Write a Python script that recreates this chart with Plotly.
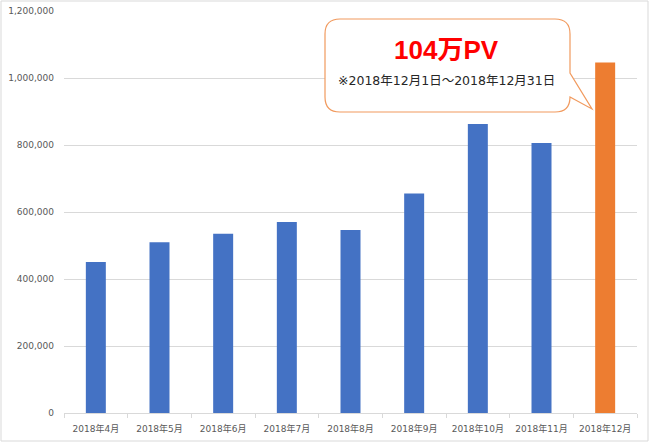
import plotly.graph_objects as go

categories = ["2018年4月", "2018年5月", "2018年6月", "2018年7月", "2018年8月",
              "2018年9月", "2018年10月", "2018年11月", "2018年12月"]
pageviews = [451000, 510000, 535000, 570000, 546000, 655000, 863000, 806000, 1046000]
bar_colors = ["#4472C4"] * 8 + ["#ED7D31"]
callout_title = "104万PV"
callout_note = "※2018年12月1日～2018年12月31日"

W, H = 650, 443
L, R, T, B = 64, 13, 11, 30
PW, PH = W - L - R, H - T - B


def px(x):
    return (x - L) / PW


def py(y):
    return (H - B - y) / PH


def path_from(points_cmds):
    out = []
    for cmd, pts in points_cmds:
        s = cmd
        s += " ".join(f"{px(a):.5f},{py(b):.5f}" for a, b in pts)
        out.append(s)
    return " ".join(out) + " Z"


fig = go.Figure()
fig.add_trace(go.Bar(
    x=categories, y=pageviews, marker=dict(color=bar_colors, line=dict(width=0)),
    hoverinfo="x+y",
))

x0, x1, y0, y1, r = 325, 570, 19, 112, 15
callout = path_from([
    ("M", [(x0 + r, y0)]),
    ("L", [(x1 - r, y0)]),
    ("Q", [(x1, y0), (x1, y0 + r)]),
    ("L", [(x1, 73)]),
    ("L", [(592, 109)]),
    ("L", [(x1, 97)]),
    ("Q", [(x1, y1), (x1 - r, y1)]),
    ("L", [(x0 + r, y1)]),
    ("Q", [(x0, y1), (x0, y1 - r)]),
    ("L", [(x0, y0 + r)]),
    ("Q", [(x0, y0), (x0 + r, y0)]),
])

shapes = [
    dict(type="rect", xref="paper", yref="paper",
         x0=px(1), x1=px(648), y0=py(441), y1=py(1),
         line=dict(color="#D9D9D9", width=1), fillcolor="rgba(0,0,0,0)", layer="below"),
    dict(type="path", xref="paper", yref="paper", path=callout,
         line=dict(color="#F19A5E", width=1.2), fillcolor="white", layer="above"),
]

annotations = [
    dict(text=f"<b>{callout_title}</b>", xref="paper", yref="paper",
         x=px(447), y=py(50), showarrow=False, xanchor="center", yanchor="middle",
         font=dict(family="Liberation Sans, Noto Sans CJK JP", size=26, color="#FF0000")),
    dict(text=callout_note, xref="paper", yref="paper",
         x=px(446), y=py(80), showarrow=False, xanchor="center", yanchor="middle",
         font=dict(family="DejaVu Sans, Noto Sans CJK JP", size=12.5, color="#262626")),
]

fig.update_layout(
    width=W, height=H,
    margin=dict(l=L, r=R, t=T, b=B, pad=0, autoexpand=False),
    paper_bgcolor="white", plot_bgcolor="white",
    bargap=0.686,
    showlegend=False,
    shapes=shapes,
    annotations=annotations,
    font=dict(family="DejaVu Sans, Noto Sans CJK JP", size=9, color="#595959"),
    xaxis=dict(
        showline=True, linecolor="#D9D9D9", linewidth=1,
        ticks="outside", ticklen=4, tickcolor="#D9D9D9", tickson="boundaries",
        showgrid=False, tickfont=dict(size=9, color="#595959"),
        automargin=False, ticklabelstandoff=7,
    ),
    yaxis=dict(
        range=[0, 1200000], dtick=200000, tickformat=",",
        showgrid=True, gridcolor="#D9D9D9", gridwidth=1, zeroline=False,
        showline=False, ticks="", ticklabelstandoff=9,
        tickfont=dict(size=9, color="#595959"), automargin=False,
    ),
)

fig.write_html("out.html")
